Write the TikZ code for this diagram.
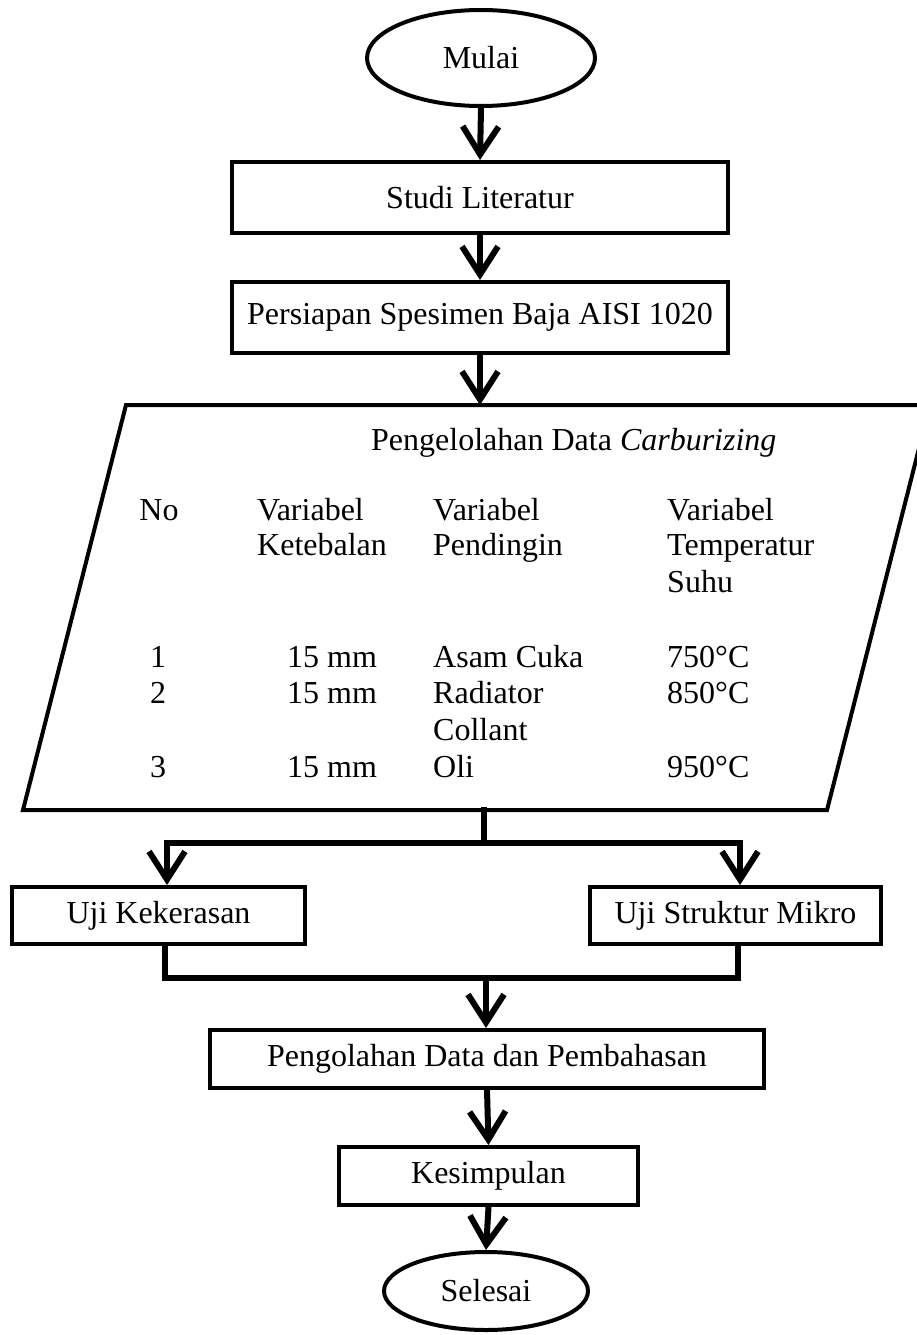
\documentclass[tikz,border=0pt]{standalone}
\usepackage{fontspec}
\setmainfont{Liberation Serif}
\usetikzlibrary{arrows.meta,shapes.geometric}

\begin{document}
\begin{tikzpicture}[x=1pt, y=-1pt,
    font=\fontsize{32}{37}\selectfont,
    term/.style={ellipse, draw=black, line width=4pt, inner sep=0pt},
    box/.style={rectangle, draw=black, line width=4pt, inner sep=0pt},
    arr/.style={draw=black, line width=6pt, -{Straight Barb[length=28pt, width=36pt]}},
    link/.style={draw=black, line width=6pt, line cap=rect},
    cell/.style={anchor=base west, inner sep=0pt}]
  \useasboundingbox (0,0) rectangle (917,1335);
  \clip (0,0) rectangle (917,1335);

  % top of the chart
  \node[term, minimum width=228pt, minimum height=96pt] (mulai) at (481,58) {Mulai};
  \node[box, minimum width=496pt, minimum height=71pt] (studi) at (480,197.5) {Studi Literatur};
  \node[box, minimum width=496pt, minimum height=71pt] (persiapan) at (480,317.5)
    {Persiapan Spesimen Baja AISI 1020};

  % data block
  \coordinate (datatop) at (480,405);
  \coordinate (databot) at (484,810);
  \draw[line width=4pt] (126,405) -- (930,405) -- (827,810) -- (23,810) -- cycle;
  \node[cell] (judul) at (371,450) {Pengelolahan Data \textit{Carburizing}};
  \node[cell, anchor=base] (no) at (159,520) {No};
  \node[cell] (tebal) at (257,520) {Variabel};
  \node[cell] (tebal2) at (257,555) {Ketebalan};
  \node[cell] (dingin) at (433,520) {Variabel};
  \node[cell] (dingin2) at (433,555) {Pendingin};
  \node[cell] (suhu) at (667,520) {Variabel};
  \node[cell] (suhu2) at (667,555) {Temperatur};
  \node[cell] (suhu3) at (667,592) {Suhu};
  \foreach \n/\y/\media/\temp in {1/667/Asam Cuka/750, 2/703/Radiator/850, 3/777/Oli/950} {
    \node[cell, anchor=base] (no\n) at (158,\y) {\n};
    \node[cell] (tebal\n) at (287,\y) {15 mm};
    \node[cell] (media\n) at (433,\y) {\media};
    \node[cell] (temp\n) at (667,\y) {\temp°C};
  }
  \node[cell] (media2b) at (433,740) {Collant};

  % tests
  \node[box, minimum width=293pt, minimum height=57pt] (ujik) at (158.5,915.5) {Uji Kekerasan};
  \node[box, minimum width=291pt, minimum height=57pt] (ujism) at (735.5,915.5) {Uji Struktur Mikro};

  % bottom of the chart
  \node[box, minimum width=554pt, minimum height=58pt] (olah) at (487,1059)
    {Pengolahan Data dan Pembahasan};
  \node[box, minimum width=299pt, minimum height=58pt] (simpul) at (488.5,1176) {Kesimpulan};
  \node[term, minimum width=204pt, minimum height=78pt] (selesai) at (486,1291) {Selesai};

  % connectors
  \coordinate (split) at (484,843);
  \coordinate (splitL) at (167,843);
  \coordinate (splitR) at (740,843);
  \coordinate (joinL) at (165,978);
  \coordinate (joinR) at (738,978);
  \coordinate (merge) at (486,978);

  \draw[arr] (mulai.south) -- (studi.north);
  \draw[arr] (studi.south) -- (persiapan.north);
  \draw[arr] (persiapan.south) -- (datatop);
  \draw[link] (databot) -- (split);
  \draw[link] (splitL) -- (splitR);
  \draw[arr] (splitL) -- (splitL |- ujik.north);
  \draw[arr] (splitR) -- (splitR |- ujism.north);
  \draw[link] (joinL |- ujik.south) -- (joinL) -- (joinR) -- (joinR |- ujism.south);
  \draw[arr] (merge) -- (merge |- olah.north);
  \draw[arr] (olah.south) -- (simpul.north);
  \draw[arr] (simpul.south) -- (selesai.north);
\end{tikzpicture}
\end{document}
